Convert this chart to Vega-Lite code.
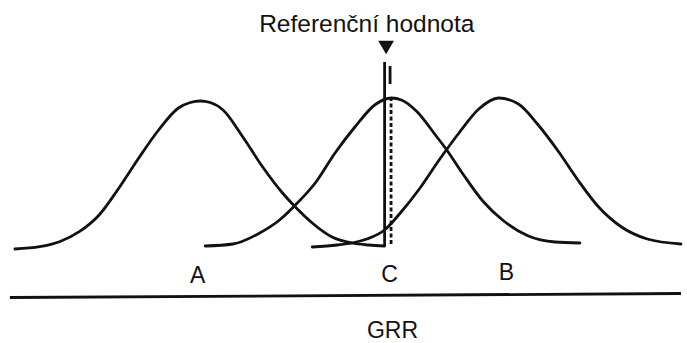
{
  "$schema": "https://vega.github.io/schema/vega-lite/v6.json",
  "width": 687,
  "height": 343,
  "autosize": {"type": "fit", "contains": "padding"},
  "padding": 0,
  "background": "white",
  "config": {"view": {"stroke": null}},
  "datasets": {
    "curves": [
      {"curve": "A", "x": 15, "h": -2}, {"curve": "A", "x": 40, "h": 0.3}, {"curve": "A", "x": 60, "h": 5.3}, {"curve": "A", "x": 80, "h": 15.3}, {"curve": "A", "x": 100, "h": 32}, {"curve": "A", "x": 120, "h": 59}, {"curve": "A", "x": 140, "h": 89}, {"curve": "A", "x": 160, "h": 117}, {"curve": "A", "x": 180, "h": 139}, {"curve": "A", "x": 192, "h": 144.5}, {"curve": "A", "x": 202, "h": 146}, {"curve": "A", "x": 212, "h": 144.5}, {"curve": "A", "x": 225, "h": 137}, {"curve": "A", "x": 245, "h": 110}, {"curve": "A", "x": 265, "h": 80}, {"curve": "A", "x": 285, "h": 54}, {"curve": "A", "x": 298, "h": 40}, {"curve": "A", "x": 315, "h": 24}, {"curve": "A", "x": 335, "h": 10}, {"curve": "A", "x": 355, "h": 4}, {"curve": "A", "x": 372, "h": 2}, {"curve": "A", "x": 388, "h": 1},
      {"curve": "C", "x": 207, "h": 1}, {"curve": "C", "x": 235, "h": 3}, {"curve": "C", "x": 262, "h": 14}, {"curve": "C", "x": 282, "h": 27}, {"curve": "C", "x": 298, "h": 42}, {"curve": "C", "x": 318, "h": 64}, {"curve": "C", "x": 338, "h": 94}, {"curve": "C", "x": 358, "h": 120}, {"curve": "C", "x": 378, "h": 142}, {"curve": "C", "x": 395, "h": 149}, {"curve": "C", "x": 405, "h": 147}, {"curve": "C", "x": 420, "h": 136}, {"curve": "C", "x": 440, "h": 111}, {"curve": "C", "x": 450, "h": 98}, {"curve": "C", "x": 467, "h": 73}, {"curve": "C", "x": 487, "h": 46}, {"curve": "C", "x": 507, "h": 27}, {"curve": "C", "x": 533, "h": 11}, {"curve": "C", "x": 560, "h": 5}, {"curve": "C", "x": 585, "h": 4},
      {"curve": "B", "x": 315, "h": 0}, {"curve": "B", "x": 340, "h": 2}, {"curve": "B", "x": 355, "h": 4}, {"curve": "B", "x": 370, "h": 8}, {"curve": "B", "x": 388, "h": 17}, {"curve": "B", "x": 403, "h": 33}, {"curve": "B", "x": 423, "h": 58}, {"curve": "B", "x": 443, "h": 87}, {"curve": "B", "x": 463, "h": 114}, {"curve": "B", "x": 483, "h": 138}, {"curve": "B", "x": 503, "h": 149}, {"curve": "B", "x": 523, "h": 143}, {"curve": "B", "x": 543, "h": 122}, {"curve": "B", "x": 563, "h": 96}, {"curve": "B", "x": 583, "h": 67}, {"curve": "B", "x": 603, "h": 41}, {"curve": "B", "x": 627, "h": 20}, {"curve": "B", "x": 653, "h": 8}, {"curve": "B", "x": 687, "h": 3}
    ],
    "solid": [
      {"x": 388, "h": 1, "h2": 185},
      {"x": 393.5, "h": 181, "h2": 163}
    ],
    "dashed": [
      {"x": 394.5, "h": 150, "h2": 1}
    ],
    "marker": [
      {"x": 389.5, "h": 199.5}
    ],
    "base": [
      {"x": 10, "h": -50.5, "x2": 687, "h2": -46.5}
    ],
    "title": [
      {"x": 370, "h": 215, "label": "Referenční hodnota"}
    ],
    "labels": [
      {"x": 199.5, "h": -36, "label": "A"},
      {"x": 393, "h": -35, "label": "C"},
      {"x": 511, "h": -33, "label": "B"},
      {"x": 396, "h": -91, "label": "GRR"}
    ]
  },
  "encoding": {
    "x": {"field": "x", "type": "quantitative", "scale": {"domain": [0, 687], "nice": false, "zero": false}, "axis": null},
    "y": {"field": "h", "type": "quantitative", "scale": {"domain": [-96, 247], "nice": false, "zero": false}, "axis": null}
  },
  "layer": [
    {
      "data": {"name": "curves"},
      "mark": {"type": "line", "interpolate": "monotone", "color": "#111", "strokeWidth": 2.8, "strokeCap": "round"},
      "encoding": {"detail": {"field": "curve", "type": "nominal"}}
    },
    {
      "data": {"name": "solid"},
      "mark": {"type": "rule", "color": "#111", "strokeWidth": 2.8},
      "encoding": {"y2": {"field": "h2"}}
    },
    {
      "data": {"name": "dashed"},
      "mark": {"type": "rule", "color": "#111", "strokeWidth": 2.8, "strokeDash": [4, 2.5]},
      "encoding": {"y2": {"field": "h2"}}
    },
    {
      "data": {"name": "marker"},
      "mark": {"type": "point", "shape": "triangle-down", "filled": true, "color": "#111", "opacity": 1, "size": 250}
    },
    {
      "data": {"name": "base"},
      "mark": {"type": "rule", "color": "#111", "strokeWidth": 2.8},
      "encoding": {"x2": {"field": "x2"}, "y2": {"field": "h2"}}
    },
    {
      "data": {"name": "title"},
      "mark": {"type": "text", "font": "Liberation Sans", "fontSize": 24.5, "align": "center", "baseline": "alphabetic", "color": "#111"},
      "encoding": {"text": {"field": "label"}}
    },
    {
      "data": {"name": "labels"},
      "mark": {"type": "text", "font": "Liberation Sans", "fontSize": 23, "align": "center", "baseline": "alphabetic", "color": "#111"},
      "encoding": {"text": {"field": "label"}}
    }
  ]
}
